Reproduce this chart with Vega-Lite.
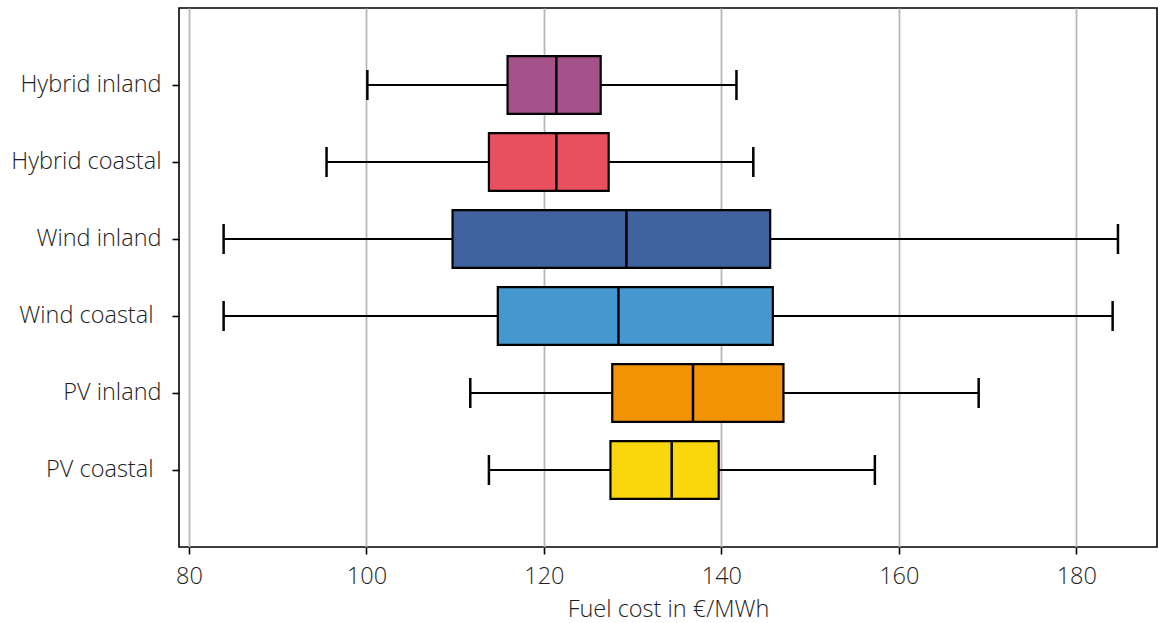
{
  "$schema": "https://vega.github.io/schema/vega-lite/v6.json",
  "width": 978,
  "height": 539,
  "autosize": {"type": "none"},
  "padding": {"left": 179, "top": 8, "right": 1, "bottom": 76},
  "background": "white",
  "config": {
    "view": {"stroke": "black", "strokeWidth": 1.6},
    "font": "Open Sans",
    "axis": {"labelFont": "Open Sans", "titleFont": "Open Sans", "labelFontWeight": 300, "titleFontWeight": 300}
  },
  "data": {
    "values": [
      {"tech": "Hybrid inland", "low": 100.1, "q1": 115.9, "median": 121.4, "q3": 126.4, "high": 141.7},
      {"tech": "Hybrid coastal", "low": 95.5, "q1": 113.8, "median": 121.4, "q3": 127.3, "high": 143.6},
      {"tech": "Wind inland", "low": 83.9, "q1": 109.7, "median": 129.3, "q3": 145.5, "high": 184.7},
      {"tech": "Wind coastal", "low": 83.9, "q1": 114.8, "median": 128.4, "q3": 145.8, "high": 184.1},
      {"tech": "PV inland", "low": 111.7, "q1": 127.7, "median": 136.8, "q3": 147.0, "high": 169.0},
      {"tech": "PV coastal", "low": 113.8, "q1": 127.5, "median": 134.4, "q3": 139.7, "high": 157.3}
    ]
  },
  "encoding": {
    "y": {
      "field": "tech", "type": "nominal",
      "sort": ["Hybrid inland", "Hybrid coastal", "Wind inland", "Wind coastal", "PV inland", "PV coastal"],
      "scale": {"paddingInner": 0.25, "paddingOuter": 0.625},
      "axis": {"title": null, "domain": false, "grid": false, "ticks": true, "tickColor": "black", "tickSize": 7, "tickWidth": 1.6, "labelFontSize": 23.5, "labelColor": "#1e1e1e",
        "labelPadding": {"condition": {"test": "datum.value == 'Wind coastal' || datum.value == 'PV coastal'", "value": 19}, "value": 11}}
    }
  },
  "layer": [
    {
      "mark": {"type": "rule", "color": "black", "strokeWidth": 2},
      "encoding": {
        "x": {
          "field": "low", "type": "quantitative",
          "scale": {"domain": [78.87, 189.1], "nice": false, "zero": false},
          "axis": {"title": "Fuel cost in €/MWh", "values": [80, 100, 120, 140, 160, 180], "domain": false, "grid": true, "gridColor": "#b8b8b8", "gridWidth": 1.8, "tickColor": "black", "tickSize": 7, "tickWidth": 1.6, "labelFontSize": 23.5, "labelColor": "#1e1e1e", "labelPadding": 10, "titleFontSize": 23.5, "titleColor": "#1e1e1e", "titlePadding": 10}
        },
        "x2": {"field": "high"}
      }
    },
    {
      "mark": {"type": "tick", "color": "black", "thickness": 2.5, "size": 30, "opacity": 1},
      "encoding": {"x": {"field": "low", "type": "quantitative"}}
    },
    {
      "mark": {"type": "tick", "color": "black", "thickness": 2.5, "size": 30, "opacity": 1},
      "encoding": {"x": {"field": "high", "type": "quantitative"}}
    },
    {
      "mark": {"type": "bar", "stroke": "black", "strokeWidth": 2.2, "opacity": 1},
      "encoding": {
        "x": {"field": "q1", "type": "quantitative"},
        "x2": {"field": "q3"},
        "color": {
          "field": "tech", "type": "nominal", "legend": null,
          "scale": {
            "domain": ["Hybrid inland", "Hybrid coastal", "Wind inland", "Wind coastal", "PV inland", "PV coastal"],
            "range": ["#a5528a", "#e8505f", "#4063a0", "#4598cf", "#f29305", "#fad60c"]
          }
        }
      }
    },
    {
      "mark": {"type": "tick", "color": "black", "thickness": 2.5, "size": 57, "opacity": 1},
      "encoding": {"x": {"field": "median", "type": "quantitative"}}
    }
  ]
}
